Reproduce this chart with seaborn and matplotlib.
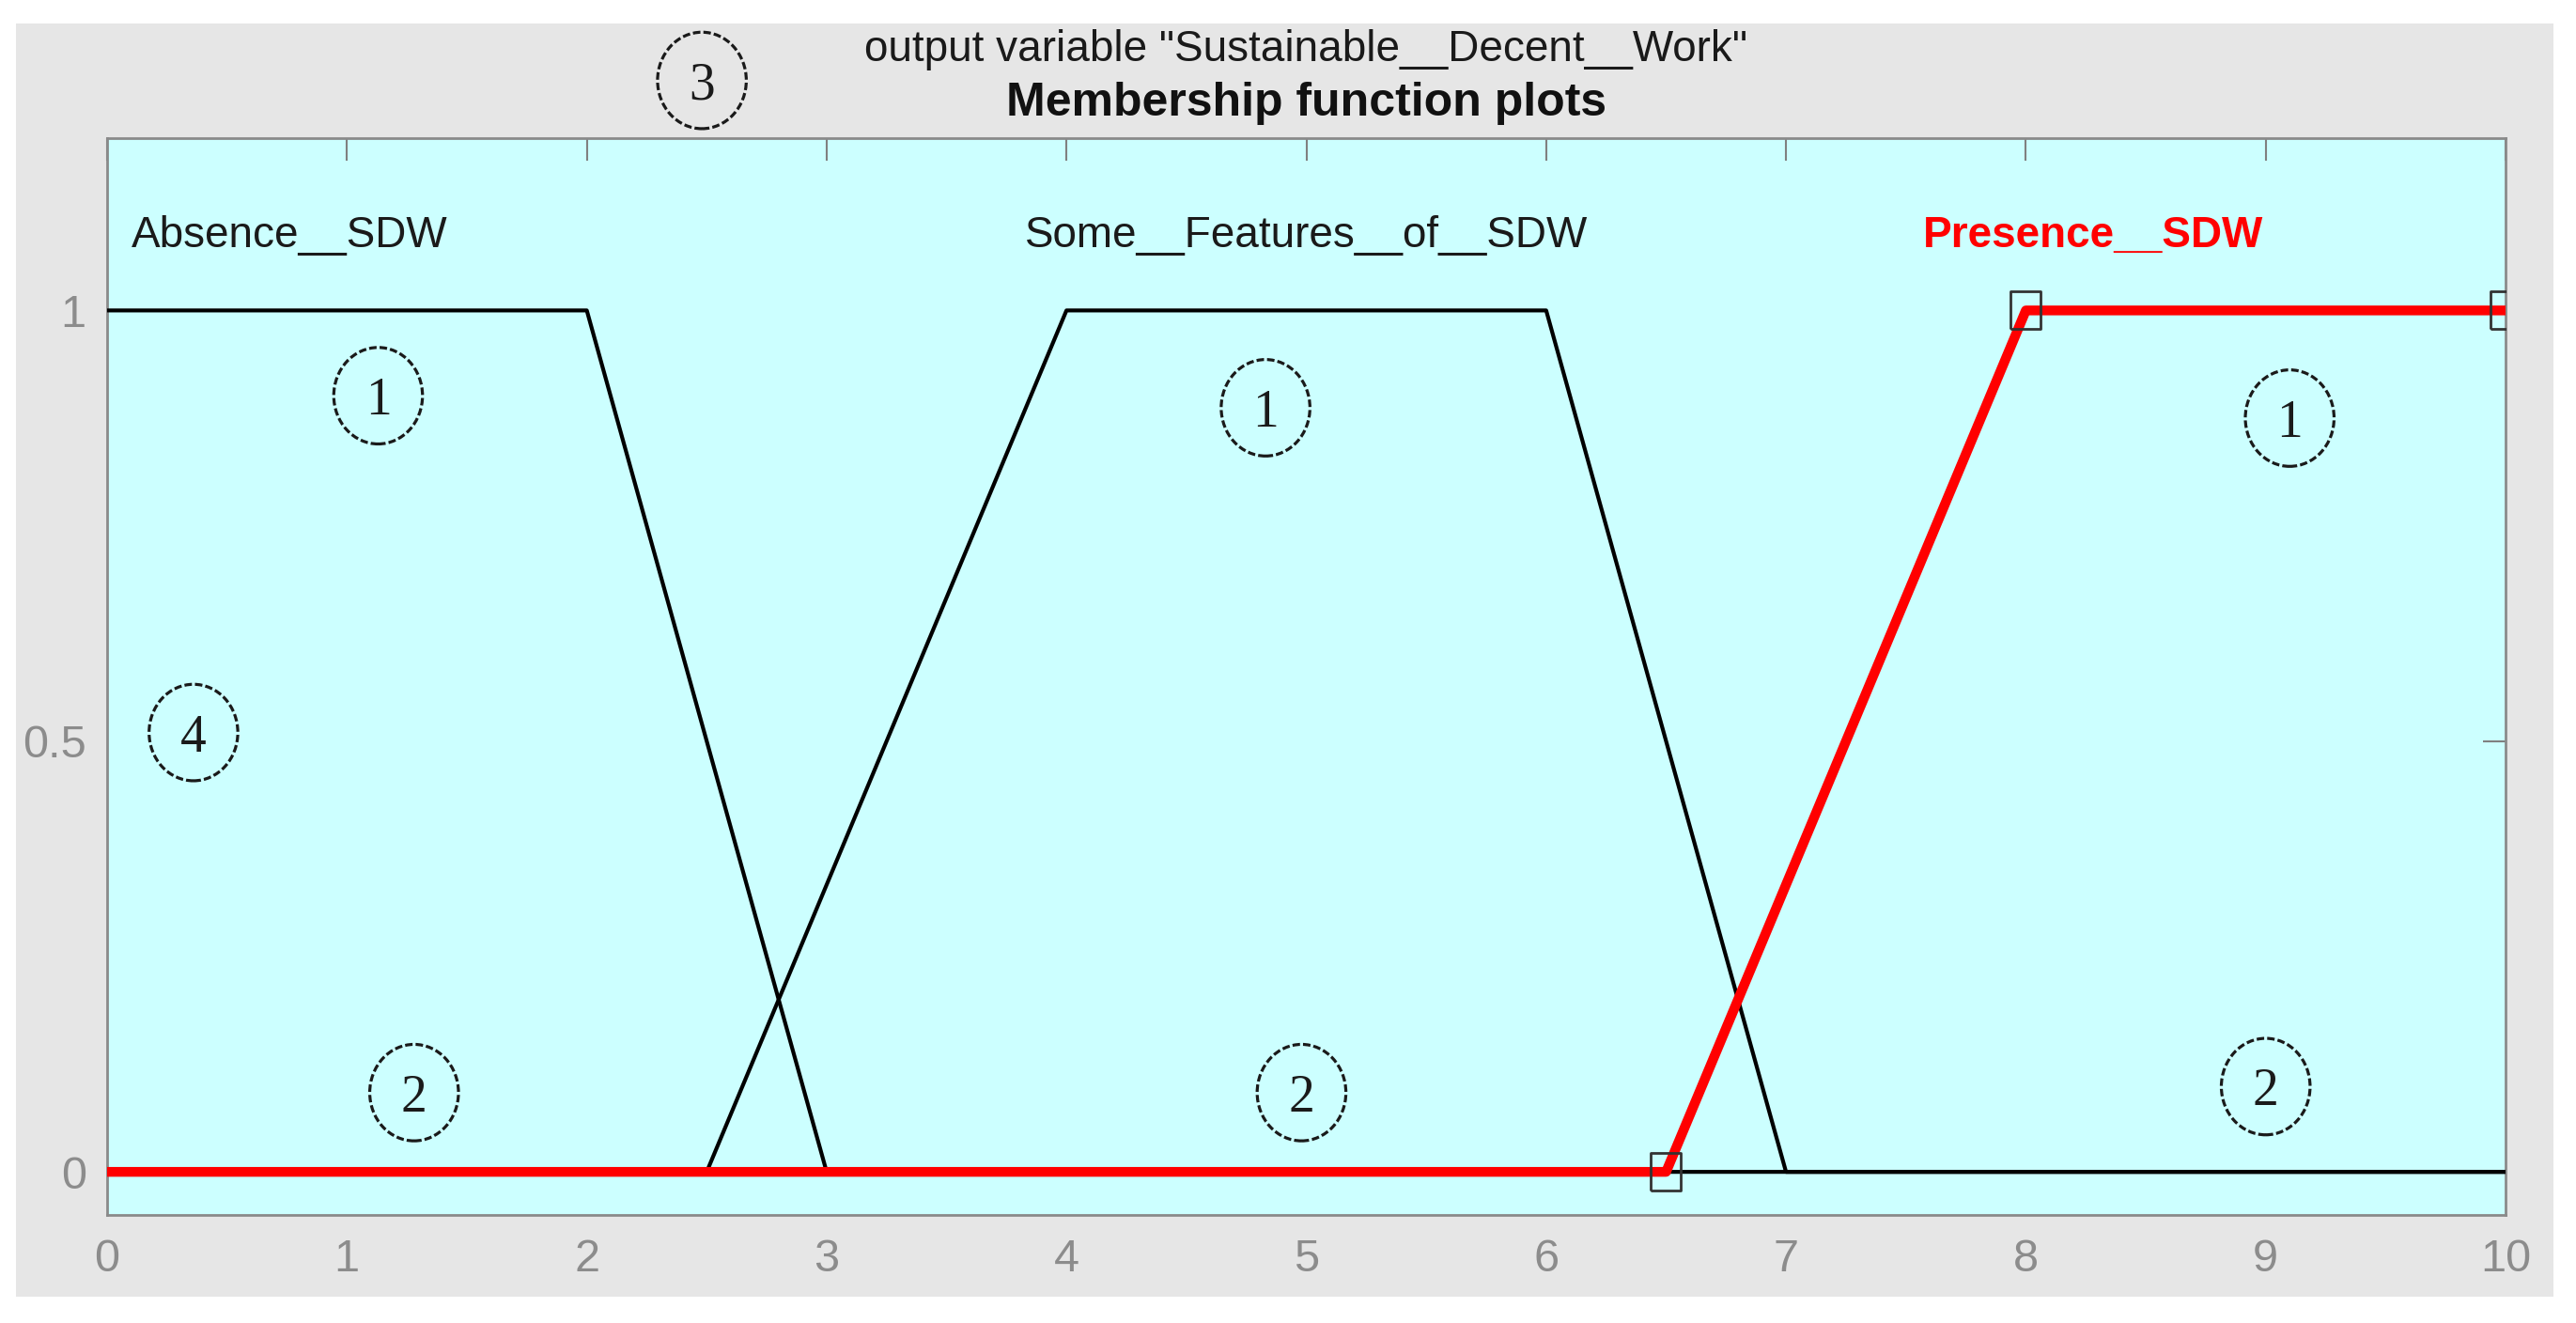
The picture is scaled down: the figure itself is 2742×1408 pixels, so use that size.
import matplotlib
matplotlib.use("Agg")
import matplotlib.pyplot as plt
from matplotlib.patches import Ellipse, Rectangle
import seaborn as sns

# Membership functions of the output variable (trapezoids on 0..10)
absence_x = [0, 2, 3, 10]
absence_y = [1, 1, 0, 0]
some_x = [0, 2.5, 4, 6, 7, 10]
some_y = [0, 0, 1, 1, 0, 0]
presence_x = [0, 6.5, 8, 10]
presence_y = [0, 0, 1, 1]

# Parameter points of the selected function (shown with square handles)
handle_x = [6.5, 8, 10]
handle_y = [0, 1, 1]

mf_names = ["Absence__SDW", "Some__Features__of__SDW", "Presence__SDW"]
name_x = [0.76, 5.0, 8.28]

x_ticks = [0, 1, 2, 3, 4, 5, 6, 7, 8, 9, 10]
y_ticks = [0, 0.5, 1]
y_tick_labels = ["0", "0.5", "1"]

# Circled annotation numbers
circle_text = ["1", "1", "1", "2", "2", "2", "3", "4"]
circle_x = [1.13, 4.83, 9.10, 1.28, 4.98, 9.00, 2.48, 0.36]
circle_y = [0.901, 0.887, 0.875, 0.092, 0.092, 0.099, 1.267, 0.51]

sns.set_theme(style="white")
plt.rcParams["font.family"] = ["Liberation Sans", "DejaVu Sans"]

fig = plt.figure(figsize=(27.42, 14.08), dpi=100)
fig.patch.set_facecolor("white")
fig.patches.append(Rectangle((0.0062, 0.0199), 0.985, 0.9624, transform=fig.transFigure,
                             facecolor="#e6e6e6", edgecolor="none", zorder=-10))

ax = fig.add_axes([0.04158, 0.08168, 0.93107, 0.8139])
ax.set_facecolor("#ccffff")

sns.lineplot(x=absence_x, y=absence_y, ax=ax, color="black", lw=3,
             estimator=None, sort=False, zorder=3)
sns.lineplot(x=some_x, y=some_y, ax=ax, color="black", lw=3,
             estimator=None, sort=False, zorder=3)
sns.lineplot(x=presence_x, y=presence_y, ax=ax, color="#ff0000", lw=7.5,
             estimator=None, sort=False, zorder=4)

rect_marker = [(-0.78, -1), (0.78, -1), (0.78, 1), (-0.78, 1), (-0.78, -1)]
ax.plot(handle_x, handle_y, ls="none", marker=rect_marker, markersize=29,
        markerfacecolor="none", markeredgecolor="#333333", markeredgewidth=2, zorder=5)

for i, (name, nx) in enumerate(zip(mf_names, name_x)):
    selected = i == 2
    ax.text(nx, 1.074, name, ha="center", va="baseline", fontsize=33,
            color="#ff0000" if selected else "#1a1a1a",
            fontweight="bold" if selected else "normal", zorder=6)

for t, cx, cy in zip(circle_text, circle_x, circle_y):
    e = Ellipse((cx, cy), 0.37, 0.112, facecolor="none", edgecolor="#1a1a1a",
                lw=2.3, ls=(0, (2.5, 1)), clip_on=False, zorder=6)
    ax.add_patch(e)
    ax.text(cx, cy, t, ha="center", va="center_baseline", fontsize=40,
            family=["Liberation Serif", "DejaVu Serif"], color="#1a1a1a",
            clip_on=False, zorder=7)

ax.set_xlim(0, 10)
ax.set_ylim(-0.05, 1.2)
ax.set_xticks(x_ticks)
ax.set_yticks(y_ticks)
ax.set_yticklabels(y_tick_labels)
ax.set_xlabel("")
ax.set_ylabel("")
ax.tick_params(axis="both", direction="in", length=17, width=1.5, colors="#808080",
               labelcolor="#8c8c8c", labelsize=35, top=True, right=True)
ax.tick_params(axis="x", pad=18)
ax.tick_params(axis="y", pad=16)
for s in ax.spines.values():
    s.set_color("#8a8a8a")
    s.set_linewidth(2)
    s.set_visible(True)

fig.text(0.5071, 0.9538, 'output variable "Sustainable__Decent__Work"', ha="center",
         va="baseline", fontsize=33, color="#1a1a1a")
fig.text(0.5071, 0.9126, "Membership function plots", ha="center", va="baseline",
         fontsize=36, fontweight="bold", color="#111111")

fig.savefig("out.png", dpi=100)
